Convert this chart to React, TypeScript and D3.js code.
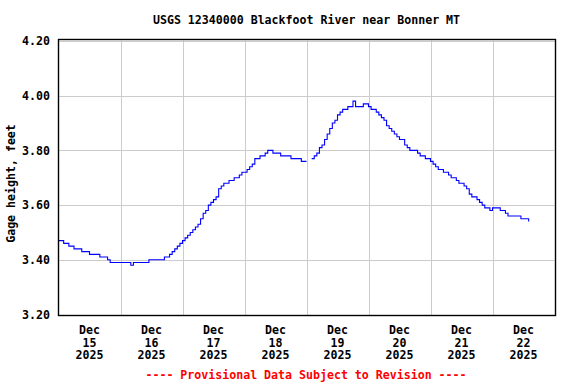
import React from "react";
import * as d3 from "d3";

const TITLE = "USGS 12340000 Blackfoot River near Bonner MT";
const Y_LABEL = "Gage height, feet";
const FOOTER = "---- Provisional Data Subject to Revision ----";
const Y_TICKS = [3.2, 3.4, 3.6, 3.8, 4.0, 4.2];
const DAY_LABELS = ["15", "16", "17", "18", "19", "20", "21", "22"];

// hourly gage height readings (ft), starting Dec 15 2025 00:00
const dec15 = [3.47, 3.47, 3.46, 3.46, 3.45, 3.45, 3.44, 3.44, 3.44, 3.43, 3.43, 3.43, 3.42, 3.42, 3.42, 3.42, 3.41, 3.41, 3.41, 3.40, 3.39, 3.39, 3.39, 3.39];
const dec16 = [3.39, 3.39, 3.39, 3.39, 3.38, 3.39, 3.39, 3.39, 3.39, 3.39, 3.39, 3.40, 3.40, 3.40, 3.40, 3.40, 3.40, 3.41, 3.41, 3.42, 3.43, 3.44, 3.45, 3.46];
const dec17 = [3.47, 3.48, 3.49, 3.50, 3.51, 3.52, 3.53, 3.55, 3.57, 3.58, 3.60, 3.61, 3.62, 3.63, 3.66, 3.67, 3.68, 3.68, 3.69, 3.69, 3.70, 3.70, 3.71, 3.72];
const dec18 = [3.72, 3.73, 3.74, 3.75, 3.77, 3.77, 3.78, 3.78, 3.79, 3.80, 3.80, 3.79, 3.79, 3.79, 3.78, 3.78, 3.78, 3.78, 3.77, 3.77, 3.77, 3.77, 3.76, 3.76];
const dec19 = [3.76, null, 3.77, 3.78, 3.79, 3.81, 3.82, 3.84, 3.86, 3.88, 3.90, 3.91, 3.93, 3.94, 3.95, 3.95, 3.96, 3.96, 3.98, 3.96, 3.96, 3.96, 3.97, 3.97];
const dec20 = [3.96, 3.95, 3.95, 3.94, 3.93, 3.92, 3.91, 3.89, 3.88, 3.87, 3.86, 3.85, 3.84, 3.84, 3.82, 3.81, 3.80, 3.80, 3.80, 3.79, 3.78, 3.78, 3.77, 3.77];
const dec21 = [3.76, 3.75, 3.74, 3.73, 3.73, 3.72, 3.72, 3.71, 3.70, 3.70, 3.69, 3.68, 3.68, 3.67, 3.66, 3.64, 3.63, 3.63, 3.62, 3.61, 3.60, 3.59, 3.59, 3.58];
const dec22 = [3.59, 3.59, 3.59, 3.58, 3.58, 3.57, 3.56, 3.56, 3.56, 3.56, 3.56, 3.55, 3.55, 3.55, 3.54];

const W = 576;
const H = 384;
const PL = 58.5;
const PR = 554.5;
const PT = 40.5;
const PB = 315.5;
const FONT = "'DejaVu Sans Mono', 'Liberation Mono', monospace";

export default function App() {
  const start = new Date(2025, 11, 15, 0, 0, 0);
  const end = new Date(2025, 11, 23, 0, 0, 0);
  const x = d3.scaleTime().domain([start, end]).range([PL, PR]);
  const y = d3.scaleLinear().domain([3.2, 4.2]).range([314.5, 41]);

  const all = [...dec15, ...dec16, ...dec17, ...dec18, ...dec19, ...dec20, ...dec21, ...dec22];
  const data = all.map((v, i) => ({ t: d3.timeHour.offset(start, i), v }));

  const line = d3
    .line<{ t: Date; v: number | null }>()
    .defined((d) => d.v !== null)
    .x((d) => x(d.t))
    .y((d) => y(d.v as number))
    .curve(d3.curveStepAfter);

  const days = d3.timeDay.range(start, end);
  const gridDays = d3.timeDay.range(d3.timeDay.offset(start, 1), end);

  return (
    <svg width={W} height={H} style={{ position: "absolute", left: 0, top: 0, background: "#fff" }}>
      <rect x={0} y={0} width={W} height={H} fill="#fff" />
      <text x={306.5} y={24} textAnchor="middle" fontFamily={FONT} fontWeight="bold" fontSize={11.6} fill="#000">
        {TITLE}
      </text>
      {Y_TICKS.map((t) => (
        <line key={"gy" + t} x1={PL} x2={PR} y1={Math.round(y(t)) + 0.5} y2={Math.round(y(t)) + 0.5} stroke="#cccccc" strokeWidth={1} />
      ))}
      {gridDays.map((d) => (
        <line key={"gx" + d.getTime()} x1={Math.round(x(d)) + 0.5} x2={Math.round(x(d)) + 0.5} y1={PT} y2={PB} stroke="#cccccc" strokeWidth={1} />
      ))}
      <path d={line(data) || ""} fill="none" stroke="#0000ff" strokeWidth={1.1} />
      <rect x={PL} y={PT - 1} width={PR - PL + 1} height={PB - PT + 1} fill="none" stroke="#000" strokeWidth={1.4} />
      {Y_TICKS.map((t) => (
        <text key={"ty" + t} x={50} y={y(t)} dy="0.36em" textAnchor="end" fontFamily={FONT} fontWeight="bold" fontSize={11.6} fill="#000">
          {t.toFixed(2)}
        </text>
      ))}
      <text
        transform={`translate(15,183.5) rotate(-90)`}
        textAnchor="middle"
        fontFamily={FONT}
        fontWeight="bold"
        fontSize={11.6}
        fill="#000"
      >
        {Y_LABEL}
      </text>
      {days.map((d, i) => {
        const cx = x(d3.timeHour.offset(d, 12));
        return (
          <text key={"tx" + i} textAnchor="middle" fontFamily={FONT} fontWeight="bold" fontSize={11.6} fill="#000">
            <tspan x={cx} y={334}>Dec</tspan>
            <tspan x={cx} y={346.5}>{DAY_LABELS[i]}</tspan>
            <tspan x={cx} y={359}>2025</tspan>
          </text>
        );
      })}
      <text x={306} y={379} textAnchor="middle" fontFamily={FONT} fontWeight="bold" fontSize={11.6} fill="#ff0000">
        {FOOTER}
      </text>
    </svg>
  );
}
